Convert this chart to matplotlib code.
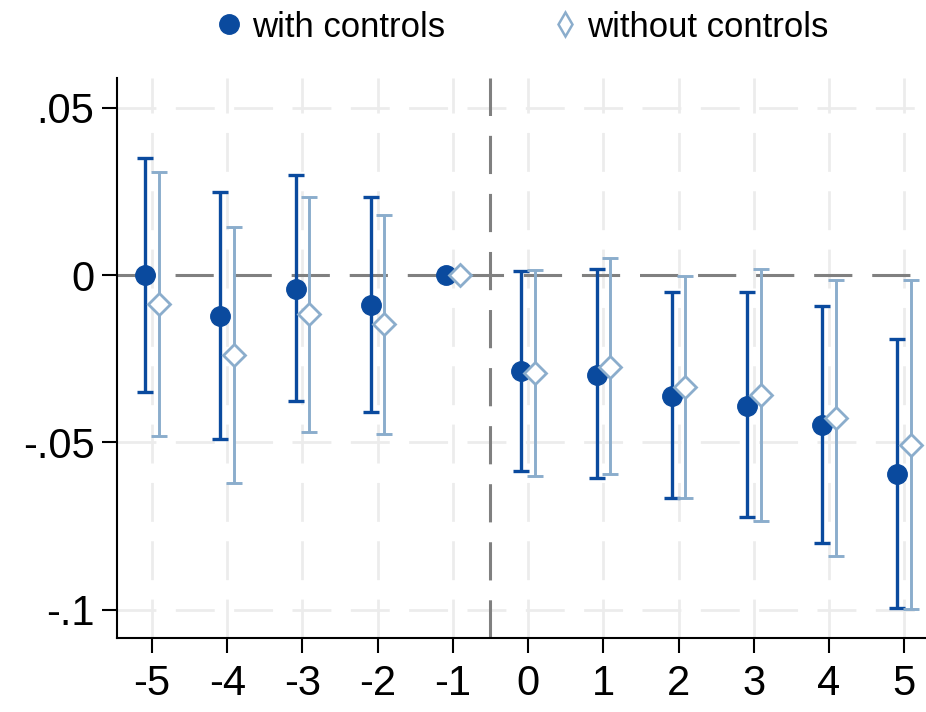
import matplotlib.pyplot as plt
import numpy as np

periods = [-5, -4, -3, -2, -1, 0, 1, 2, 3, 4, 5]

# with controls
b_ctrl = [0.0, -0.0122, -0.0042, -0.0088, 0.0, -0.0286, -0.0299, -0.036, -0.039, -0.0448, -0.0595]
hi_ctrl = [0.0351, 0.0247, 0.0299, 0.0234, 0.0, 0.0012, 0.0017, -0.005, -0.005, -0.0092, -0.0192]
lo_ctrl = [-0.035, -0.049, -0.0376, -0.041, 0.0, -0.0584, -0.0607, -0.0667, -0.0724, -0.080, -0.0995]

# without controls
b_noctrl = [-0.0087, -0.0239, -0.0116, -0.0146, 0.0, -0.0292, -0.0274, -0.0333, -0.0358, -0.0428, -0.0508]
hi_noctrl = [0.0308, 0.0144, 0.0232, 0.0179, 0.0, 0.0015, 0.005, -0.0003, 0.0017, -0.0015, -0.0015]
lo_noctrl = [-0.048, -0.0622, -0.0468, -0.0475, 0.0, -0.060, -0.0595, -0.0667, -0.0736, -0.0838, -0.0998]

ytick_vals = [-0.1, -0.05, 0, 0.05]
ytick_labels = ["-.1", "-.05", "0", ".05"]

dark = "#0a4a9e"
light = "#8badcc"

plt.rcParams["font.family"] = ["Liberation Sans", "DejaVu Sans"]

fig = plt.figure(figsize=(9.26, 7.12), dpi=100)
ax = fig.add_axes([0.126, 0.104, 0.874, 0.786])

x = np.array(periods, dtype=float)
off = 0.09

def draw(xs, b, lo, hi, color, marker, ms, mfc, mew, elw, label):
    b = np.array(b); lo = np.array(lo); hi = np.array(hi)
    has_ci = hi != lo
    ax.errorbar(xs[has_ci], b[has_ci], yerr=[b[has_ci] - lo[has_ci], hi[has_ci] - b[has_ci]],
                fmt="none", ecolor=color, elinewidth=elw, capsize=6, capthick=elw, zorder=3)
    ax.plot(xs, b, linestyle="none", marker=marker, markersize=ms,
            markerfacecolor=mfc, markeredgecolor=color, markeredgewidth=mew, color=color,
            label=label, zorder=4)

draw(x - off, b_ctrl, lo_ctrl, hi_ctrl, dark, "o", 14, dark, 1, 2.4, "with controls")
draw(x + off, b_noctrl, lo_noctrl, hi_noctrl, light, "D", 11.5, "white", 2.0, 2.1, "without controls")

# grid
grid_ls = (0, (14, 7))
for yv in ytick_vals:
    if yv != 0:
        ax.axhline(yv, color="#ececec", lw=2, ls=grid_ls, zorder=0)
for xv in periods:
    ax.axvline(xv, color="#ececec", lw=2, ls=grid_ls, zorder=0)

ax.axhline(0, color="#808080", lw=2.2, ls=(0, (12.5, 6.5)), zorder=1)
ax.axvline(-0.5, color="#808080", lw=2.2, ls=(0, (12.5, 6.5)), zorder=1)

ax.set_xlim(-5.47, 5.29)
ax.set_ylim(-0.1084, 0.0588)
ax.set_xticks(periods)
ax.set_xticklabels([str(p) for p in periods])
ax.set_yticks(ytick_vals)
ax.set_yticklabels(ytick_labels)
ax.tick_params(axis="both", labelsize=30, length=11, width=1.5, color="black")
ax.tick_params(axis="x", pad=8)
ax.tick_params(axis="y", pad=5)
ax.spines["top"].set_visible(False)
ax.spines["right"].set_visible(False)
ax.spines["left"].set_linewidth(1.5)
ax.spines["bottom"].set_linewidth(1.5)

handles = [
    plt.Line2D([], [], ls="none", marker="o", markersize=14, color=dark),
    plt.Line2D([], [], ls="none", marker="d", markersize=12.5, markerfacecolor="white",
               markeredgecolor=light, markeredgewidth=1.8),
]
fig.legend(handles, ["with controls", "without controls"], loc="center",
           bbox_to_anchor=(0.562, 0.962), ncol=2, frameon=False, fontsize=25,
           handletextpad=0.15, columnspacing=2.95, handlelength=1.0)

fig.savefig("out.png", dpi=100)
